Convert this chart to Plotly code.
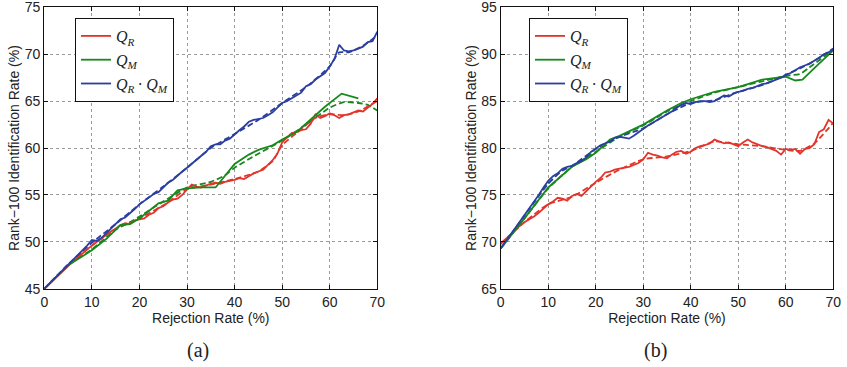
import plotly.graph_objects as go

# ---------------- data: panel (a) ----------------
x_step = list(range(0, 71))

a_red = [45.0,45.5,46.0,46.5,47.0,47.5,47.9,48.3,48.8,49.2,49.6,50.0,50.3,50.7,51.1,51.4,51.8,52.0,51.9,52.3,
         52.4,52.5,52.9,53.1,53.6,53.8,54.2,54.5,54.6,55.0,55.6,56.1,55.9,55.8,56.0,56.2,56.3,56.2,56.4,56.5,
         56.6,56.8,56.7,57.0,57.3,57.5,57.7,58.2,58.7,59.4,60.6,61.1,61.6,61.7,61.9,62.0,62.6,63.6,63.2,63.4,
         63.7,63.5,63.2,63.5,63.6,63.8,64.0,63.9,64.3,64.7,65.3]
a_blue = [45.0,45.5,46.0,46.6,47.1,47.6,48.1,48.5,49.0,49.6,50.2,50.1,50.4,50.9,51.4,51.9,52.4,52.6,53.0,53.5,
          54.0,54.4,54.8,55.1,55.3,55.8,56.3,56.6,57.1,57.5,57.9,58.3,58.8,59.2,59.6,60.2,60.4,60.4,60.8,61.0,
          61.5,61.9,62.3,62.8,63.0,63.1,63.2,63.5,63.8,64.3,64.8,65.0,65.3,65.6,65.9,66.6,66.8,67.3,67.7,68.0,
          68.7,69.5,71.0,70.4,70.3,70.4,70.6,70.8,71.3,71.4,72.4]
a_green_x = [0,5,10,13,16,18,20,24,26,28,30,33,36,38,40,43,45,48,50,53,56,59,62.5,66]
a_green = [45.0,47.5,49.1,50.3,51.8,51.9,52.5,54.1,54.4,55.5,55.7,55.8,55.8,57.0,58.3,59.3,59.8,60.3,60.9,61.7,63.0,64.4,65.8,65.3]

a_red_fit_x = [0,5,10,15,20,25,30,35,40,45,48,50,53,57,60,63,66,70]
a_red_fit = [45.0,47.5,49.6,51.4,52.5,53.9,55.6,56.1,56.7,57.5,58.6,60.3,61.6,63.2,63.6,63.5,63.9,65.0]
a_green_fit_x = [0,5,10,15,18,20,25,30,35,38,40,45,50,55,60,63,66,68,70]
a_green_fit = [45.0,47.5,49.2,51.3,52.1,52.7,54.3,55.8,56.4,57.1,57.9,59.4,60.8,62.5,64.3,64.9,64.8,64.6,64.0]
a_blue_fit_x = [0,5,10,15,20,25,30,35,40,45,50,55,60,62,64,67,70]
a_blue_fit = [45.0,47.6,49.9,51.9,54.0,55.9,57.9,60.0,61.5,63.0,64.8,66.5,68.7,70.2,70.2,70.9,72.0]

# ---------------- data: panel (b) ----------------
b_red = [69.8,70.3,70.8,71.2,71.7,72.1,72.4,72.7,73.1,73.6,74.0,74.3,74.7,74.6,74.4,74.9,75.1,74.9,75.4,76.0,
         76.4,76.8,77.4,77.5,77.7,77.8,77.9,78.0,78.2,78.4,78.8,79.5,79.3,79.2,79.0,78.9,79.3,79.6,79.7,79.4,
         79.6,80.0,80.2,80.3,80.5,80.9,80.7,80.5,80.6,80.4,80.2,80.6,80.9,80.6,80.4,80.2,80.1,79.9,79.7,79.3,
         79.9,79.8,79.9,79.4,79.9,80.0,80.4,81.7,82.0,83.0,82.6]
b_blue = [69.3,70.0,70.7,71.4,72.1,72.8,73.6,74.3,75.0,75.8,76.5,77.0,77.3,77.8,78.0,78.1,78.4,78.6,79.0,79.6,
          80.0,80.3,80.5,80.7,81.1,81.2,81.1,81.0,81.3,81.7,82.1,82.4,82.7,83.0,83.3,83.6,83.9,84.3,84.6,84.8,
          84.7,84.9,85.0,85.0,84.9,85.0,85.3,85.6,85.5,85.8,86.0,86.1,86.3,86.4,86.6,86.8,86.9,87.1,87.3,87.5,
          87.8,88.0,88.3,88.6,88.8,89.0,89.3,89.6,90.0,90.2,90.5]
b_green_x = [0,3,5,10,15,18,20,23,25,30,35,38,40,45,50,55,60,62,63.5,67,70]
b_green = [69.3,71.2,72.5,75.8,78.0,78.8,79.5,80.9,81.3,82.5,84.0,84.8,85.2,86.0,86.5,87.3,87.6,87.2,87.3,89.0,90.4]

b_red_fit_x = [0,5,10,15,20,25,30,35,40,45,50,55,60,63,66,70]
b_red_fit = [69.8,72.1,74.0,74.8,76.3,77.7,78.8,79.1,79.7,80.7,80.4,80.2,79.8,79.7,80.5,82.7]
b_green_fit_x = [0,5,10,15,20,25,30,35,40,45,50,55,60,63,65,70]
b_green_fit = [69.3,72.5,75.7,78.0,79.6,81.2,82.4,83.9,85.0,85.9,86.5,87.1,87.7,87.9,88.6,90.5]
b_blue_fit_x = [0,5,10,13,15,20,25,30,35,40,45,50,55,60,65,70]
b_blue_fit = [69.3,72.8,76.2,77.6,78.1,79.9,81.2,82.1,83.6,84.8,85.1,86.0,86.7,87.8,89.0,90.6]

x_ticks = [0, 10, 20, 30, 40, 50, 60, 70]
a_y_ticks = [45, 50, 55, 60, 65, 70, 75]
b_y_ticks = [65, 70, 75, 80, 85, 90, 95]

RED, GREEN, BLUE = "#e3342b", "#17891c", "#2b3fa0"
names = ["<i>Q</i><sub><i>R</i></sub>", "<i>Q</i><sub><i>M</i></sub>",
         "<i>Q</i><sub><i>R</i></sub>\u2009·\u2009<i>Q</i><sub><i>M</i></sub>"]

fig = go.Figure()

def add_panel(xa, ya, legend, red, blue, gx, green, rfx, rf, gfx, gf, bfx, bf):
    for fx, fy, c in [(rfx, rf, RED), (gfx, gf, GREEN), (bfx, bf, BLUE)]:
        fig.add_trace(go.Scatter(x=fx, y=fy, mode="lines",
                                 line=dict(color=c, width=1.8, dash="6px,3px", shape="spline", smoothing=0.6),
                                 xaxis=xa, yaxis=ya, showlegend=False, hoverinfo="skip"))
    fig.add_trace(go.Scatter(x=x_step, y=red, mode="lines", line=dict(color=RED, width=1.8), name=names[0],
                             xaxis=xa, yaxis=ya, legend=legend))
    fig.add_trace(go.Scatter(x=gx, y=green, mode="lines", line=dict(color=GREEN, width=1.8), name=names[1],
                             xaxis=xa, yaxis=ya, legend=legend))
    fig.add_trace(go.Scatter(x=x_step, y=blue, mode="lines", line=dict(color=BLUE, width=1.8), name=names[2],
                             xaxis=xa, yaxis=ya, legend=legend))

add_panel("x", "y", "legend", a_red, a_blue, a_green_x, a_green,
          a_red_fit_x, a_red_fit, a_green_fit_x, a_green_fit, a_blue_fit_x, a_blue_fit)
add_panel("x2", "y2", "legend2", b_red, b_blue, b_green_x, b_green,
          b_red_fit_x, b_red_fit, b_green_fit_x, b_green_fit, b_blue_fit_x, b_blue_fit)

W, H = 847, 367
tickfont = dict(family="Liberation Sans, Arial, sans-serif", size=14, color="#222")
titlefont = dict(family="Liberation Sans, Arial, sans-serif", size=14, color="#222")
axis_common = dict(showline=True, mirror="ticks", linecolor="#111", linewidth=1.2,
                   ticks="inside", ticklen=4, tickcolor="#111", showgrid=True,
                   gridcolor="#9a9a9a", griddash="dot", gridwidth=1, zeroline=False,
                   tickfont=tickfont, automargin=False, ticklabeloverflow="allow")

ydom = [1 - 288.8 / H, 1 - 7.3 / H]
legfont = dict(family="Liberation Serif, serif", size=16, color="#222")
legcommon = dict(xanchor="left", yanchor="top", bgcolor="white", bordercolor="#111", borderwidth=1,
                 tracegroupgap=0, itemwidth=30, font=legfont)
fig.update_layout(
    width=W, height=H, margin=dict(l=0, r=0, t=0, b=0),
    paper_bgcolor="white", plot_bgcolor="white",
    xaxis=dict(domain=[44.3 / W, 377.3 / W], range=[0, 70], tickvals=x_ticks, anchor="y",
               title=dict(text="Rejection Rate (%)", font=titlefont, standoff=0), **axis_common),
    yaxis=dict(domain=ydom, range=[45, 75], tickvals=a_y_ticks, anchor="x",
               title=dict(text="Rank−100 Identification Rate (%)", font=titlefont, standoff=1), **axis_common),
    xaxis2=dict(domain=[500.7 / W, 833.3 / W], range=[0, 70], tickvals=x_ticks, anchor="y2",
                title=dict(text="Rejection Rate (%)", font=titlefont, standoff=0), **axis_common),
    yaxis2=dict(domain=ydom, range=[65, 95], tickvals=b_y_ticks, anchor="x2",
                title=dict(text="Rank−100 Identification Rate (%)", font=titlefont, standoff=1), **axis_common),
    legend=dict(x=75 / W, y=1 - 18 / H, **legcommon),
    legend2=dict(x=529 / W, y=1 - 18 / H, **legcommon),
    showlegend=True,
    annotations=[
        dict(text="(a)", x=198 / W, y=1 - 350 / H, xref="paper", yref="paper", showarrow=False,
             xanchor="center", yanchor="middle",
             font=dict(family="Liberation Serif, serif", size=20, color="#222")),
        dict(text="(b)", x=655 / W, y=1 - 350 / H, xref="paper", yref="paper", showarrow=False,
             xanchor="center", yanchor="middle",
             font=dict(family="Liberation Serif, serif", size=20, color="#222")),
    ],
)

fig.write_html("out.html", config={"displayModeBar": False},
               post_script="document.body.style.margin='0';")
